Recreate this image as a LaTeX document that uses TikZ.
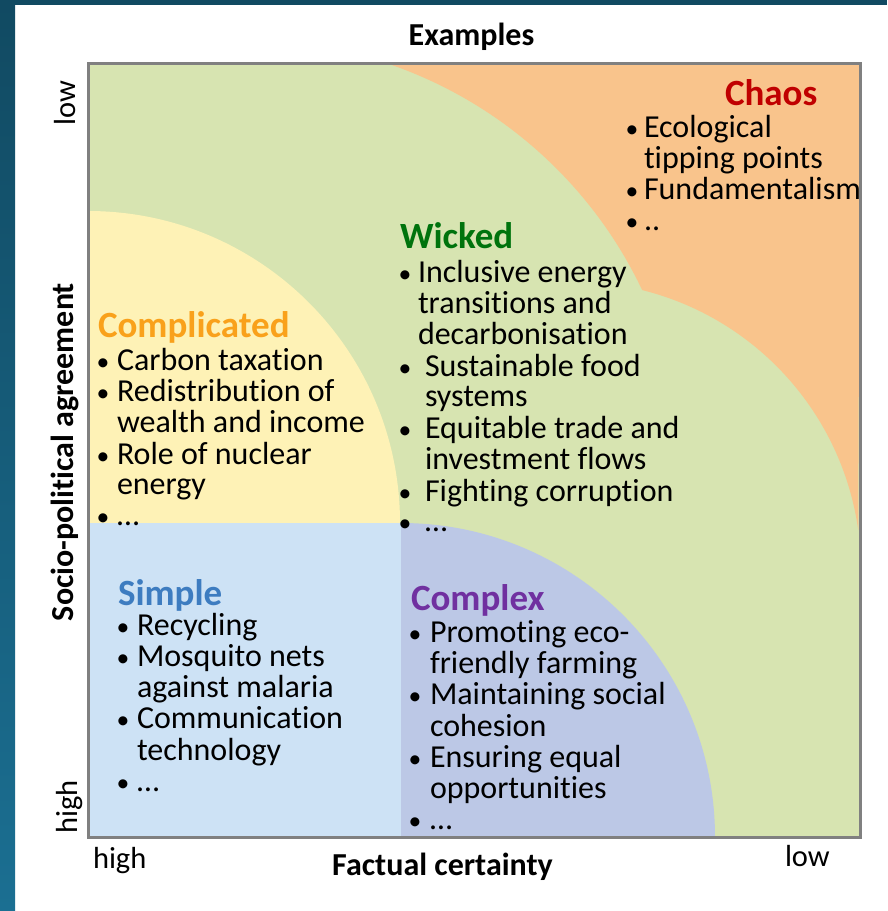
\documentclass[tikz,border=0pt]{standalone}
\usepackage{fontspec}
\setmainfont{Carlito}[Ligatures={NoCommon,NoContextual}]
\definecolor{bgdark}{HTML}{114A62}
\definecolor{bglight}{HTML}{1B6F92}
\definecolor{cgreen}{HTML}{D7E4B1}
\definecolor{corange}{HTML}{F9C48C}
\definecolor{cyellow}{HTML}{FEF2B6}
\definecolor{cblue}{HTML}{CDE2F5}
\definecolor{cpurple}{HTML}{BCC8E6}
\definecolor{framegray}{HTML}{808080}
\definecolor{tchaos}{HTML}{C00000}
\definecolor{twicked}{HTML}{00730D}
\definecolor{tcompl}{HTML}{F9A11B}
\definecolor{tsimple}{HTML}{3D7CC0}
\definecolor{tcomplex}{HTML}{7030A0}
\newlength\bw
\newcommand\itm[2][\bw]{\makebox[#1][l]{\makebox[0pt]{\scalebox{0.8}{•}}}#2}
\newcommand\cnt[2][\bw]{\hspace*{#1}#2}
\tikzset{
  titlelbl/.style={anchor=base west, inner sep=0pt, outer sep=0pt, font=\fontsize{37}{37}\selectfont\bfseries},
  bodylist/.style={anchor=base west, inner sep=0pt, outer sep=0pt, font=\fontsize{32}{30.7}\selectfont},
  axislbl/.style={inner sep=0pt, outer sep=0pt, font=\fontsize{32}{32}\selectfont\bfseries},
  ticklbl/.style={inner sep=0pt, outer sep=0pt, font=\fontsize{30.5}{30.5}\selectfont},
}
\begin{document}
\begin{tikzpicture}[x=1pt,y=-1pt]
\useasboundingbox (0,0) rectangle (887,911);
% background
\fill[white] (0,0) rectangle (887,911);
\shade[top color=bgdark, bottom color=bglight] (0,0) rectangle (15,911);
\fill[bgdark] (0,0) rectangle (887,5);
% regions
\fill[cgreen] (88,63) rectangle (860,837);
\fill[corange] (386,63) arc[start angle=-71.5, end angle=-25.4, radius=437.2]
   arc[start angle=-76.0, end angle=-8.0, radius=288.7] -- (860,63) -- cycle;
\fill[cyellow] (88,523) -- (88,211) arc[start angle=-90, end angle=0, radius=312] -- cycle;
\fill[cblue] (88,523) rectangle (401,837);
\fill[cpurple] (401,837) -- (401,523) arc[start angle=-90, end angle=0, radius=314] -- cycle;
% frame
\draw[framegray, line width=3pt] (88,63) rectangle (860,837);
% titles
\node[titlelbl, text=tchaos] (tchaos) at (725,105) {Chaos};
\node[titlelbl, text=twicked] (twicked) at (400,248) {Wicked};
\node[titlelbl, text=tcompl] (tcompl) at (98,337) {Complicated};
\node[titlelbl, text=tsimple] (tsimple) at (118,605) {Simple};
\node[titlelbl, text=tcomplex] (tcomplex) at (411,610) {Complex};
% lists
\node[bodylist] (lchaos) at (632,137) {\setlength\bw{12pt}\begin{tabular}[t]{@{}l@{}}
\itm{Ecological}\\ \cnt{tipping points}\\ \itm{Fundamentalism}\\ \itm{..}
\end{tabular}};
\node[bodylist] (lwicked) at (405,282) {\begin{tabular}[t]{@{}l@{}}
\itm[13pt]{Inclusive energy}\\ \cnt[13pt]{transitions and}\\ \cnt[13pt]{decarbonisation}\\
\itm[20pt]{Sustainable food}\\ \cnt[20pt]{systems}\\
\itm[20pt]{Equitable trade and}\\ \cnt[20pt]{investment flows}\\
\itm[20pt]{Fighting corruption}\\ \itm[20pt]{…}
\end{tabular}};
\node[bodylist] (lcompl) at (103,370) {\setlength\bw{14pt}\begin{tabular}[t]{@{}l@{}}
\itm{Carbon taxation}\\ \itm{Redistribution of}\\ \cnt{wealth and income}\\
\itm{Role of nuclear}\\ \cnt{energy}\\ \itm{…}
\end{tabular}};
\node[bodylist] (lsimple) at (123,635) {\setlength\bw{14pt}\begin{tabular}[t]{@{}l@{}}
\itm{Recycling}\\ \itm{Mosquito nets}\\ \cnt{against malaria}\\
\itm{Communication}\\ \cnt{technology}\\ \itm{…}
\end{tabular}};
\node[bodylist] (lcomplex) at (415,642) {\setlength\bw{15pt}\begin{tabular}[t]{@{}l@{}}
\itm{Promoting eco-}\\ \cnt{friendly farming}\\ \itm{Maintaining social}\\
\cnt{cohesion}\\ \itm{Ensuring equal}\\ \cnt{opportunities}\\ \itm{…}
\end{tabular}};
% axis labels
\node[axislbl, anchor=base] (examples) at (471.5,45) {Examples};
\node[axislbl, anchor=base] (factual) at (442.5,875) {Factual certainty};
\node[axislbl, anchor=base, rotate=90] (socio) at (73,452) {Socio-political agreement};
\node[ticklbl, anchor=base west] (xhigh) at (93,868) {high};
\node[ticklbl, anchor=base west] (xlow) at (785,866) {low};
\node[ticklbl, anchor=base, rotate=90] (ylow) at (75,103) {low};
\node[ticklbl, anchor=base, rotate=90] (yhigh) at (77,807) {high};
\end{tikzpicture}
\end{document}
